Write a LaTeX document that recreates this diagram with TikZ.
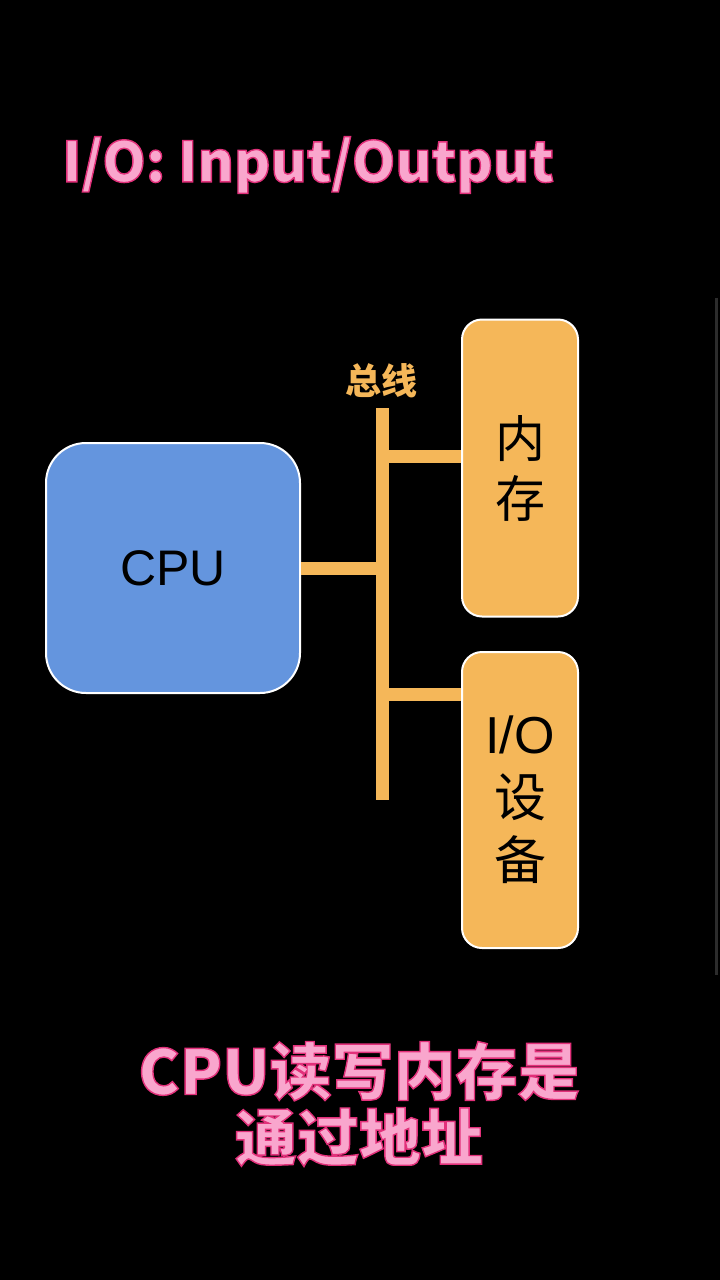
\documentclass[tikz,border=0pt]{standalone}
\usepackage{fontspec}
\usepackage{xcolor}
\setmainfont{Liberation Sans}
\newfontfamily\cjk{Noto Sans CJK SC}
\usetikzlibrary{positioning, calc}

\definecolor{cpublue}{RGB}{100,149,222}
\definecolor{memorange}{RGB}{245,183,89}
\definecolor{pinkfill}{RGB}{249,166,205}
\definecolor{edgegray}{RGB}{44,44,44}
% dark pink outline round the pink texts
\newcommand{\pinkedge}{\special{pdf:literal direct 2 Tr 1.4 w 0.886 0.188 0.478 RG}}
\newcommand{\plainedge}{\special{pdf:literal direct 0 Tr}}

\tikzset{
	cpubox/.style={draw=white, line width=2pt, fill=cpublue, rounded corners=40pt, text=black},
	membox/.style={draw=white, line width=2pt, fill=memorange, rounded corners=20pt, text=black, align=center},
	busline/.style={draw=memorange, line width=13pt},
	pinktext/.style={text=pinkfill, align=center}
}

\begin{document}
\begin{tikzpicture}[x=1pt, y=-1pt]
		% Background
		\fill[black] (0,0) rectangle (720,1280);
		\useasboundingbox (0,0) rectangle (720,1280);
		\draw[edgegray, line width=3pt] (716,298) -- (716,975);
		
		% Title
		\node[pinktext, font={\cjk\bfseries\fontsize{55.5}{66}\selectfont}] (title) at (308,165) {\pinkedge I/O: Input/Output\plainedge};
		
		% Boxes
		\node[cpubox, minimum width=254pt, minimum height=250pt, font=\fontsize{50}{60}\selectfont] (cpu) at (173,568) {CPU};
		\node[membox, minimum width=116pt, minimum height=297pt, font={\cjk\fontsize{50}{60}\selectfont}] (mem) at (520,468) {内\\存};
		\node[membox, minimum width=116pt, minimum height=296pt, font={\fontsize{52}{63}\selectfont}] (io) at (520,800) {I/O\\{\cjk 设}\\{\cjk 备}};
		
		% Bus
		\coordinate (bustop) at (382,408);
		\coordinate (busbot) at (382,800);
		\coordinate (jmem) at (382,456);
		\coordinate (jcpu) at (382,568);
		\coordinate (jio) at (382,694);
		\draw[busline] (bustop) -- (busbot);
		\draw[busline] (cpu.east) -- (jcpu);
		\draw[busline] (jmem) -- (mem.west |- jmem);
		\draw[busline] (jio) -- (io.west |- jio);
		\node[text=memorange, font={\cjk\bfseries\fontsize{36}{40}\selectfont}] (buslabel) at (381,381) {总线};
		
		% Caption
		\node[pinktext, font={\cjk\bfseries\fontsize{62}{66}\selectfont}] (caption) at (359,1104) {\pinkedge CPU读写内存是\\\pinkedge 通过地址\plainedge};
	\end{tikzpicture}
\end{document}
